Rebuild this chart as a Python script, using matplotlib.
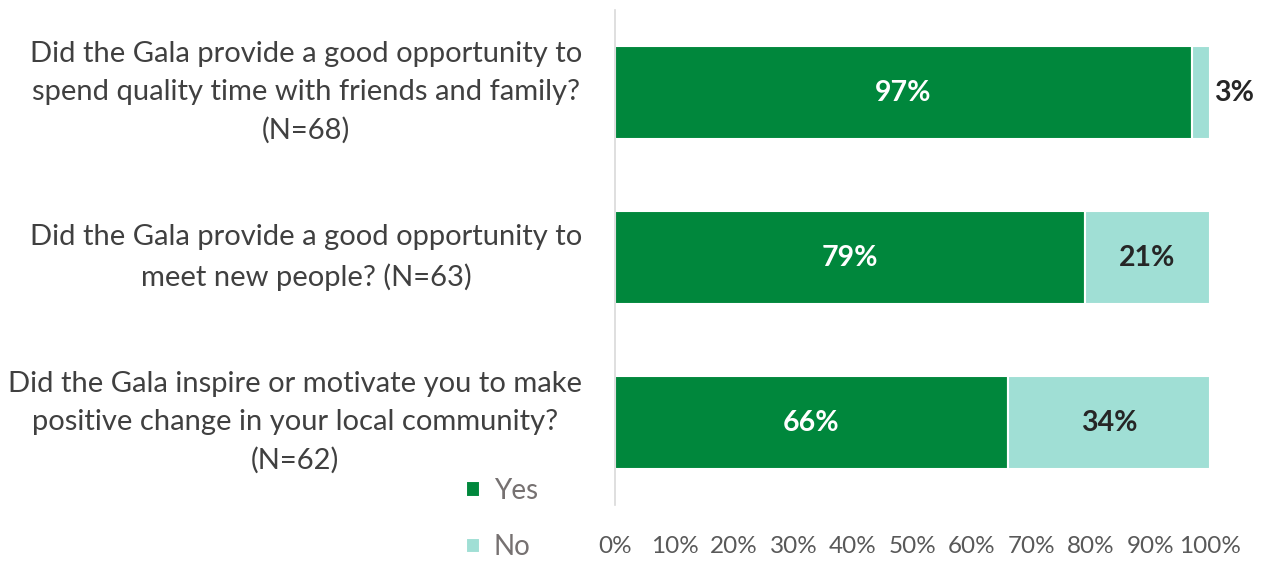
import matplotlib
matplotlib.use("Agg")
import matplotlib.pyplot as plt
import numpy as np

questions = [
    "Did the Gala provide a good opportunity to\nspend quality time with friends and family?\n(N=68)",
    "Did the Gala provide a good opportunity to\nmeet new people? (N=63)",
    "Did the Gala inspire or motivate you to make\npositive change in your local community?\n(N=62)",
]
yes_pct = [97, 79, 66]
no_pct = [3, 21, 34]
tick_values = [0, 10, 20, 30, 40, 50, 60, 70, 80, 90, 100]

GREEN = "#00873C"
TEAL = "#A0DFD5"

plt.rcParams["font.family"] = ["Lato", "DejaVu Sans"]

fig = plt.figure(figsize=(12.66, 5.61), dpi=100)
ax = fig.add_axes([615 / 1266, 1 - 505 / 561, (1210 - 615) / 1266, 495 / 561])

y = np.arange(len(questions))
bar_h = 0.56
ax.barh(y, yes_pct, height=bar_h, color=GREEN, edgecolor="white", linewidth=1.5, label="Yes")
ax.barh(y, no_pct, left=yes_pct, height=bar_h, color=TEAL, edgecolor="white", linewidth=1.5, label="No")

for i, (yv, nv) in enumerate(zip(yes_pct, no_pct)):
    ax.text(yv / 2, i, f"{yv}%", ha="center", va="center", color="white",
            fontsize=20.5, fontweight="bold")
    if nv < 8:
        ax.text(yv + nv + 0.6, i, f"{nv}%", ha="left", va="center", color="#262626",
                fontsize=20.5, fontweight="bold")
    else:
        ax.text(yv + nv / 2, i, f"{nv}%", ha="center", va="center", color="#262626",
                fontsize=20.5, fontweight="bold")

ax.set_xlim(0, 100)
ax.set_ylim(2.5, -0.5)
ax.set_xticks(tick_values)
ax.set_xticklabels([f"{t}%" for t in tick_values], fontsize=17.5, color="#595959")
ax.tick_params(axis="x", length=0, pad=22)
ax.set_yticks([])

for i, q in enumerate(questions):
    ax.text(-0.055, i, q, transform=ax.get_yaxis_transform(), ha="right", va="center",
            fontsize=21, color="#404040", multialignment="center", linespacing=1.55)

for side in ["top", "right", "bottom"]:
    ax.spines[side].set_visible(False)
ax.spines["left"].set_color("#D9D9D9")
ax.spines["left"].set_linewidth(1.2)

handles, labels = ax.get_legend_handles_labels()
leg = fig.legend(handles, labels, loc="center", bbox_to_anchor=(502 / 1266, 1 - 519 / 561),
                 frameon=False, fontsize=20, handlelength=0.5, handleheight=0.5,
                 handletextpad=0.5, labelspacing=1.1, labelcolor="#767171")

fig.savefig("out.png", dpi=100, facecolor="white")
